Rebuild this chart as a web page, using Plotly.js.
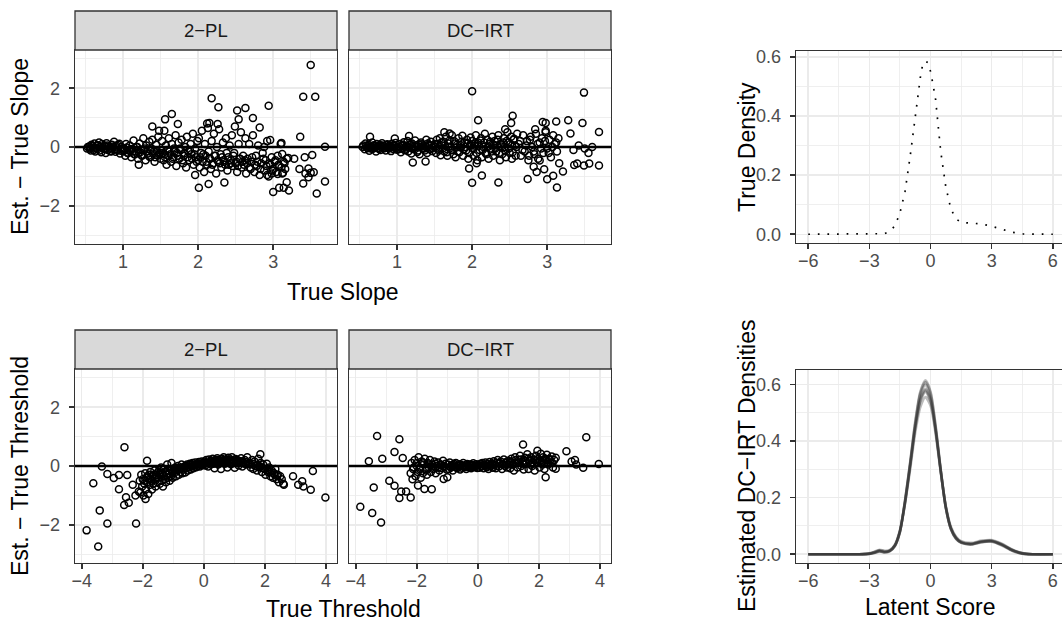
<!DOCTYPE html>
<html>
<head>
<meta charset="utf-8">
<script src="https://cdn.plot.ly/plotly-3.0.1.min.js"></script>
<style>html,body{margin:0;padding:0;background:#fff}#chart{width:1062px;height:622px}</style>
</head>
<body>
<div id="chart"></div>
<script>
// ---------------- DATA ----------------
const facetLabels = ["2\u2212PL", "DC\u2212IRT"];

// Slope panel, 2-PL: band points (x / y)
const slope2plX = [0.52,0.55,0.57,0.58,0.6,0.62,0.63,0.65,0.66,0.68,0.7,0.71,0.72,0.74,0.75,0.77,0.78,0.8,0.81,0.83,0.85,0.86,0.88,0.9,0.91,0.93,0.95,0.96,0.98,1.0,
 1.01,1.03,1.04,1.06,1.08,1.09,1.11,1.12,1.14,1.15,1.17,1.19,1.2,1.22,1.23,1.25,1.27,1.28,1.3,1.31,1.33,1.35,1.36,1.38,1.39,1.41,1.42,1.44,1.46,1.47,1.49,1.5,
 1.51,1.52,1.54,1.55,1.57,1.58,1.6,1.61,1.62,1.64,1.65,1.67,1.68,1.7,1.71,1.72,1.74,1.75,1.77,1.78,1.8,1.81,1.83,1.84,1.85,1.87,1.88,1.9,1.91,1.93,1.94,1.96,1.97,1.99,
 2.0,2.01,2.02,2.04,2.05,2.06,2.08,2.09,2.1,2.12,2.13,2.14,2.16,2.17,2.18,2.2,2.21,2.22,2.24,2.25,2.27,2.28,2.3,2.31,2.33,2.34,2.36,2.37,2.39,2.4,2.42,2.43,2.45,2.46,2.48,2.49,2.51,2.52,2.54,2.55,2.57,2.58,2.6,
 2.61,2.63,2.64,2.66,2.68,2.7,2.71,2.73,2.75,2.77,2.78,2.8,2.82,2.84,2.86,2.88,2.9,2.92,2.94,2.96,2.98,3.0,3.02,3.04,3.06,3.08,3.1,3.12,3.14,3.16,3.18];
const slope2plY = [-0.05,0.02,-0.12,0.08,-0.02,0.12,-0.15,0.05,-0.08,0.15,0.0,-0.18,0.1,-0.06,0.04,-0.2,0.13,-0.1,0.02,-0.14,0.08,-0.04,0.18,-0.16,0.05,-0.09,0.11,-0.22,0.0,-0.12,
 -0.05,-0.3,0.1,-0.2,-0.12,0.05,-0.35,-0.08,0.22,-0.25,-0.15,0.0,-0.4,0.12,-0.18,-0.3,0.3,-0.1,-0.45,0.05,-0.22,0.18,-0.35,-0.05,0.25,-0.15,-0.5,0.08,-0.28,0.35,-0.2,-0.4,
 -0.1,0.2,-0.45,-0.25,0.05,-0.6,-0.3,0.3,-0.15,-0.5,0.1,-0.35,-0.05,0.4,-0.65,-0.2,0.15,-0.4,-0.1,0.25,-0.55,-0.3,0.0,-0.7,0.35,-0.15,-0.45,0.1,-0.25,0.45,-0.6,-0.05,-0.35,0.2,
 -0.45,0.3,-0.7,-0.2,0.55,-0.5,-0.85,0.1,-0.3,-0.6,0.65,-0.15,-0.4,-0.75,0.2,-0.55,0.45,-0.3,-0.9,0.0,-0.5,0.6,-0.25,-0.7,0.15,-0.45,-0.6,0.3,-0.8,-0.35,0.05,-0.55,0.4,-0.65,-0.2,0.7,-0.5,-0.85,0.1,-0.4,0.5,-0.7,-0.3,
 -0.6,0.3,-0.9,-0.4,0.1,-0.75,-0.5,0.4,-0.85,-0.3,-0.65,0.05,-0.95,-0.55,-0.2,-0.8,-0.45,0.2,-1.0,-0.6,-0.35,-0.75,-0.5,-0.85,-0.3,-0.65,0.1,-0.9,-0.5,-0.75,-0.4];
// Slope panel, 2-PL: densest core of the band
const slope2plCoreX = [0.53,0.56,0.59,0.61,0.64,0.67,0.69,0.73,0.76,0.79,0.82,0.84,0.87,0.89,0.92,0.94,0.97,0.99,
 1.02,1.05,1.07,1.1,1.13,1.16,1.18,1.21,1.24,1.26,1.29,1.32,1.34,1.37,1.4,1.43,1.45,1.48,
 1.53,1.56,1.59,1.63,1.66,1.69,1.73,1.76,1.79,1.82,1.86,1.89,1.92,1.95,1.98,
 2.03,2.07,2.11,2.15,2.19,2.23,2.26,2.29,2.32,2.35,2.38,2.41,2.44,2.47,2.5,2.53,2.56,2.59,
 2.62,2.65,2.69,2.72,2.76,2.79,2.83,2.87,2.91,2.95,2.99,3.03,3.07,3.11,3.15];
const slope2plCoreY = [0.0,-0.06,0.04,-0.1,-0.03,0.06,-0.12,0.0,-0.08,0.05,-0.05,-0.15,0.02,-0.09,-0.02,0.07,-0.13,-0.05,
 -0.12,-0.02,-0.2,-0.08,-0.15,-0.25,0.0,-0.18,-0.1,-0.28,-0.05,-0.15,-0.3,-0.1,-0.22,-0.35,-0.12,-0.25,
 -0.2,-0.35,-0.1,-0.25,-0.4,-0.15,-0.3,-0.05,-0.45,-0.2,-0.35,-0.1,-0.4,-0.25,-0.5,
 -0.35,-0.25,-0.5,-0.4,-0.6,-0.3,-0.45,-0.55,-0.35,-0.5,-0.2,-0.6,-0.45,-0.3,-0.55,-0.65,-0.4,-0.5,
 -0.45,-0.55,-0.7,-0.35,-0.6,-0.5,-0.75,-0.4,-0.65,-0.55,-0.8,-0.45,-0.6,-0.7,-0.55];
// Slope panel, 2-PL: scattered points [x, y]
const slope2plOut = [[3.50,2.79],[3.40,1.71],[3.56,1.71],[2.18,1.66],[2.27,1.35],[2.94,1.40],[2.52,1.24],[2.63,1.33],[2.73,0.99],[2.54,0.94],[2.82,0.66],[3.36,0.35],[3.69,0.01],
 [1.65,1.12],[1.56,0.94],[1.73,0.78],[1.39,0.70],[1.48,0.55],[1.55,0.55],[2.12,0.8],[2.15,0.82],[2.26,0.78],[2.96,0.24],[3.11,0.14],[2.88,0.0],
 [2.01,-1.39],[2.14,-1.26],[2.35,-1.21],[1.96,-0.95],[3.0,-1.53],[3.08,-1.39],[3.14,-1.39],[3.18,-1.2],[3.21,-1.48],[3.40,-1.24],[3.58,-1.58],[3.69,-1.17],
 [3.47,-0.73],[3.43,-0.9],[3.5,-0.88],[3.54,-0.86],[3.47,-1.03],[3.42,-0.35],[3.52,-0.27],[3.35,-0.75],[3.28,-0.4],[3.2,-0.37],[3.12,-0.24],
 [2.92,-0.95],[2.98,-0.9],[3.06,-0.92],[3.13,-0.88],[1.21,-0.6]];

// Slope panel, DC-IRT
const slopeDcX = [0.55,0.57,0.58,0.6,0.62,0.63,0.65,0.67,0.68,0.7,0.72,0.73,0.75,0.77,0.78,0.8,0.82,0.83,0.85,0.87,0.88,0.9,0.92,0.93,0.95,0.97,0.98,1.0,
 1.02,1.04,1.05,1.07,1.09,1.1,1.12,1.14,1.15,1.17,1.19,1.2,1.22,1.24,1.25,1.27,1.29,1.3,1.32,1.34,1.35,1.37,1.39,1.4,1.42,1.44,1.45,1.47,1.49,
 1.5,1.52,1.53,1.55,1.57,1.58,1.6,1.62,1.63,1.65,1.67,1.68,1.7,1.72,1.73,1.75,1.77,1.78,1.8,1.82,1.83,1.85,1.87,1.88,1.9,1.92,1.93,1.95,1.97,1.98,
 2.0,2.02,2.03,2.05,2.07,2.08,2.1,2.12,2.13,2.15,2.17,2.18,2.2,2.22,2.23,2.25,2.27,2.28,2.3,2.32,2.33,2.35,2.37,2.38,2.4,2.42,2.43,2.45,2.47,2.48,2.5,2.52,2.53,2.55,2.57,2.58,2.6,
 2.62,2.65,2.68,2.7,2.73,2.75,2.78,2.8,2.83,2.85,2.88,2.9,2.93,2.95,2.98,3.0,3.03,3.05,3.08,3.1,3.13,3.15,
 3.35,3.42,3.5,3.55,3.6];
const slopeDcY = [0.05,-0.08,0.12,-0.02,0.08,-0.13,0.0,0.15,-0.06,0.04,-0.15,0.1,-0.03,0.07,-0.1,0.13,-0.05,0.02,-0.12,0.09,-0.01,0.06,-0.14,0.11,-0.07,0.03,0.14,-0.09,
 -0.08,0.1,-0.18,0.03,0.16,-0.1,-0.02,0.2,-0.15,0.07,-0.22,0.12,-0.05,0.22,0.0,-0.17,0.09,-0.25,0.15,-0.03,0.05,-0.12,0.25,-0.2,0.08,-0.07,0.18,-0.14,0.02,
 0.1,-0.2,0.25,-0.05,0.3,-0.28,0.05,0.18,-0.15,0.35,-0.3,0.0,0.22,-0.1,0.4,-0.25,0.12,-0.35,0.08,0.3,-0.18,-0.02,0.38,-0.3,0.15,-0.12,0.25,-0.4,0.05,0.32,
 0.2,-0.3,0.05,0.4,-0.45,0.15,-0.1,0.3,-0.35,0.0,0.45,-0.2,0.25,-0.4,0.1,-0.05,0.35,-0.3,0.2,-0.15,0.05,0.4,-0.45,0.1,-0.25,0.3,0.0,-0.35,0.5,0.15,-0.2,0.35,-0.4,0.25,0.05,-0.3,0.45,
 0.1,-0.3,0.4,-0.15,0.2,-0.45,0.35,0.0,-0.25,0.45,-0.4,0.15,0.3,-0.2,0.5,-0.05,0.25,-0.35,0.4,0.1,-0.15,0.3,
 -0.1,0.05,-0.05,-0.2,0.0];
const slopeDcCoreX = [0.54,0.59,0.61,0.64,0.66,0.69,0.71,0.74,0.76,0.79,0.81,0.84,0.86,0.89,0.91,0.94,0.96,0.99,
 1.03,1.06,1.08,1.11,1.13,1.16,1.18,1.21,1.23,1.26,1.28,1.31,1.33,1.36,1.38,1.41,1.43,1.46,1.48,
 1.51,1.54,1.56,1.59,1.61,1.64,1.66,1.69,1.71,1.74,1.76,1.79,1.81,1.84,1.86,1.89,1.91,1.94,1.96,1.99,
 2.01,2.04,2.06,2.09,2.11,2.14,2.16,2.19,2.21,2.24,2.26,2.29,2.31,2.34,2.36,2.39,2.41,2.44,2.46,2.49,2.51,2.54,2.56,2.59,
 2.64,2.67,2.72,2.77,2.82,2.87,2.92,2.97,3.02,3.07,3.12];
const slopeDcCoreY = [0.0,0.04,-0.04,0.02,-0.06,0.06,-0.02,0.03,-0.07,0.0,0.05,-0.03,0.07,-0.05,0.02,-0.01,0.05,-0.04,
 0.02,-0.05,0.08,-0.1,0.04,-0.02,0.1,-0.07,0.03,0.06,-0.12,0.0,0.09,-0.05,0.02,0.12,-0.08,0.05,-0.03,
 0.0,0.1,-0.12,0.15,-0.05,0.05,-0.18,0.12,0.02,-0.1,0.2,-0.02,-0.15,0.08,0.18,-0.08,0.0,0.12,-0.2,0.05,
 -0.05,0.12,-0.2,0.05,0.22,-0.1,0.15,-0.25,0.0,0.18,-0.15,0.08,-0.05,0.25,-0.2,0.02,0.15,-0.12,0.2,-0.05,0.1,-0.18,0.28,0.0,
 0.2,-0.1,0.05,0.25,-0.15,0.1,-0.05,0.2,-0.2,0.0,0.15];
const slopeDcOut = [[2.0,1.9],[3.49,1.85],[2.08,0.91],[2.54,1.06],[2.52,0.82],[2.44,0.6],[2.94,0.85],[2.98,0.82],[3.12,0.87],[3.28,0.91],[3.47,0.82],[3.69,0.51],[3.31,0.46],
 [2.84,0.6],[2.98,0.55],[1.63,0.5],[1.7,0.46],[0.64,0.35],[1.16,0.37],[0.97,0.29],
 [2.0,-1.22],[2.13,-0.97],[2.35,-1.21],[2.74,-1.09],[3.13,-1.38],[3.0,-1.1],[3.08,-0.98],[2.86,-0.85],[2.82,-0.67],[2.96,-0.76],[3.21,-0.83],[1.96,-0.73],
 [3.4,-0.56],[3.36,-0.61],[3.49,-0.63],[3.56,-0.56],[3.69,-0.63],[3.16,-0.55],[2.9,-0.46],[2.76,-0.3],[1.21,-0.53],[1.38,-0.49],[2.06,-0.55]];

// Threshold panel, 2-PL
const thr2plX = [-2.1,-2.08,-2.05,-2.02,-2.0,-1.98,-1.95,-1.92,-1.9,-1.88,-1.85,-1.82,-1.8,-1.78,-1.75,-1.72,-1.7,-1.68,-1.65,-1.62,-1.6,-1.58,-1.55,-1.52,-1.5,
 -1.48,-1.46,-1.44,-1.42,-1.4,-1.38,-1.36,-1.34,-1.32,-1.3,-1.28,-1.26,-1.24,-1.22,-1.2,-1.18,-1.16,-1.14,-1.12,-1.1,-1.08,-1.06,-1.04,-1.02,-1.0,
 -0.97,-0.94,-0.91,-0.88,-0.85,-0.82,-0.79,-0.76,-0.73,-0.7,-0.67,-0.64,-0.61,-0.58,-0.55,-0.52,-0.49,-0.46,-0.43,-0.4,-0.37,-0.34,-0.31,-0.28,-0.25,-0.22,-0.19,-0.16,-0.13,-0.1,-0.07,-0.04,-0.01,
 0.02,0.05,0.08,0.11,0.14,0.17,0.2,0.23,0.26,0.29,0.32,0.35,0.38,0.41,0.44,0.47,0.5,0.53,0.56,0.59,0.62,0.65,0.68,0.71,0.74,0.77,0.8,0.83,0.86,0.89,0.92,0.95,0.98,1.01,1.04,1.07,1.1,1.14,1.18,1.22,1.26,1.3,1.34,1.38,1.42,1.46,
 1.5,1.54,1.58,1.62,1.66,1.7,1.74,1.78,1.82,1.86,1.9,1.94,1.98,2.02,2.06,2.1,2.14,2.18,2.22,2.26,2.3,2.34,2.38,2.42,2.46,2.5,2.55,2.6];
const thr2plY = [-0.5,-0.9,-0.3,-0.7,-0.45,-1.0,-0.6,-0.25,-0.8,-0.4,-0.55,-0.95,-0.3,-0.65,-0.2,-0.5,-0.8,-0.35,-0.6,-0.15,-0.45,-0.7,-0.3,-0.55,-0.2,
 -0.4,-0.15,-0.6,-0.3,-0.05,-0.5,-0.25,-0.7,-0.35,-0.1,-0.45,-0.2,-0.55,-0.3,0.05,-0.4,-0.15,-0.25,-0.5,-0.1,-0.35,0.1,-0.2,-0.4,-0.15,
 -0.25,-0.05,-0.35,-0.15,0.0,-0.3,-0.1,-0.2,0.05,-0.25,-0.12,-0.02,-0.22,-0.08,0.05,-0.15,-0.05,0.08,-0.12,-0.02,0.1,-0.08,0.02,0.12,-0.04,0.06,0.0,0.14,-0.02,0.08,0.15,0.03,0.1,
 0.15,0.02,0.2,0.1,-0.02,0.22,0.12,0.05,0.18,0.25,0.08,-0.08,0.2,0.14,0.26,0.05,0.18,0.1,-0.1,0.25,0.15,0.3,0.08,0.2,0.12,-0.05,0.28,0.16,0.22,0.06,0.3,0.12,0.18,-0.06,0.24,0.1,0.2,0.02,0.15,0.26,-0.02,0.12,0.2,0.05,0.3,0.08,
 0.1,-0.05,0.2,-0.1,0.15,0.0,-0.15,0.25,-0.05,0.1,-0.2,0.05,-0.1,-0.3,0.08,-0.2,-0.05,-0.35,-0.15,-0.4,-0.25,-0.1,-0.45,-0.3,-0.55,-0.35,-0.45,-0.6];
const thr2plCoreX = [-1.95,-1.85,-1.75,-1.65,-1.55,-1.45,-1.35,-1.25,-1.15,-1.05,
 -0.95,-0.9,-0.8,-0.75,-0.65,-0.6,-0.5,-0.45,-0.35,-0.3,-0.2,-0.15,-0.05,0.0,
 0.04,0.1,0.16,0.22,0.28,0.34,0.4,0.46,0.52,0.58,0.64,0.7,0.76,0.82,0.88,0.94,1.0,1.06,1.12,1.2,1.28,1.36,1.44,
 1.52,1.6,1.68,1.76,1.84,1.92,2.0,2.08,2.16,2.24,2.32,2.4];
const thr2plCoreY = [-0.5,-0.35,-0.45,-0.3,-0.4,-0.25,-0.3,-0.2,-0.25,-0.12,
 -0.15,-0.08,-0.12,-0.05,-0.07,0.0,-0.02,0.03,0.0,0.05,0.04,0.08,0.06,0.1,
 0.08,0.12,0.1,0.15,0.12,0.17,0.14,0.2,0.16,0.18,0.2,0.15,0.22,0.18,0.14,0.2,0.15,0.18,0.12,0.16,0.1,0.14,0.08,
 0.05,0.08,0.0,0.04,-0.02,-0.06,-0.1,-0.14,-0.2,-0.22,-0.3,-0.35];
const thr2plOut = [[-3.84,-2.19],[-3.46,-2.74],[-3.41,-1.51],[-3.16,-1.96],[-3.62,-0.59],[-3.34,-0.02],[-3.16,-0.27],[-2.95,-0.41],[-2.78,-0.31],[-2.51,-0.31],
 [-2.78,-0.79],[-2.6,0.64],[-2.55,-1.06],[-2.61,-1.33],[-2.46,-1.25],[-2.22,-1.96],[-2.33,-0.64],[-2.13,-0.87],[-2.24,-1.0],[-1.91,-1.12],[-1.86,0.18],
 [2.92,-0.35],[2.62,-0.64],[3.09,-0.64],[3.22,-0.52],[3.26,-0.7],[3.5,-0.81],[3.57,-0.17],[3.98,-1.07],[1.85,0.4]];

// Threshold panel, DC-IRT
const thrDcX = [-2.2,-2.17,-2.14,-2.1,-2.07,-2.04,-2.0,-1.97,-1.94,-1.9,-1.87,-1.84,-1.8,-1.77,-1.74,-1.7,-1.67,-1.64,-1.6,-1.57,-1.54,-1.5,-1.46,-1.42,-1.38,-1.34,-1.3,-1.26,-1.22,-1.18,-1.14,-1.1,-1.06,-1.02,
 -0.98,-0.95,-0.92,-0.88,-0.85,-0.82,-0.78,-0.75,-0.72,-0.68,-0.65,-0.62,-0.58,-0.55,-0.52,-0.48,-0.45,-0.42,-0.38,-0.35,-0.32,-0.28,-0.25,-0.22,-0.18,-0.15,-0.12,-0.08,-0.05,-0.02,
 0.02,0.05,0.09,0.12,0.15,0.19,0.22,0.25,0.29,0.32,0.35,0.39,0.42,0.45,0.49,0.52,0.55,0.59,0.62,0.65,0.69,0.72,0.75,0.79,0.82,0.85,0.89,0.92,0.95,0.99,
 1.02,1.06,1.1,1.14,1.18,1.22,1.26,1.3,1.34,1.38,1.42,1.46,1.5,1.54,1.58,1.62,1.66,1.7,1.74,1.78,1.82,1.86,1.9,1.94,1.98,2.02,2.06,2.1,2.14,2.18,2.22,2.26,2.3,2.34,2.38,2.42,2.46,2.5];
const thrDcY = [-0.25,0.1,-0.45,-0.05,0.2,-0.35,0.0,-0.2,0.3,-0.1,-0.4,0.15,-0.25,0.05,0.25,-0.15,-0.3,0.1,-0.05,0.2,-0.2,0.05,-0.1,0.15,-0.25,0.0,0.12,-0.15,0.05,-0.08,0.18,-0.05,0.08,-0.12,
 0.05,-0.1,0.12,-0.05,0.02,-0.15,0.08,-0.02,0.1,-0.08,0.0,0.06,-0.12,0.04,-0.06,0.1,-0.03,0.02,-0.1,0.07,0.0,-0.05,0.05,-0.08,0.03,0.09,-0.04,0.01,0.06,-0.07,
 0.04,-0.06,0.08,-0.02,0.1,-0.08,0.02,0.12,-0.04,0.06,-0.1,0.14,0.0,0.08,-0.06,0.16,0.04,-0.08,0.1,0.2,-0.02,0.08,0.15,-0.1,0.05,0.22,0.0,0.12,-0.05,0.18,
 0.1,-0.08,0.25,0.05,-0.15,0.3,0.12,-0.05,0.2,0.35,0.0,0.15,-0.12,0.28,0.08,0.4,-0.1,0.18,0.3,0.0,0.22,-0.15,0.35,0.1,0.25,-0.05,0.42,0.15,0.3,-0.1,0.2,0.38,0.05,0.25,0.12,0.32,-0.05,0.2];
const thrDcCoreX = [-2.12,-2.0,-1.9,-1.8,-1.7,-1.6,-1.5,-1.4,-1.3,-1.2,-1.1,
 -0.9,-0.8,-0.7,-0.6,-0.5,-0.4,-0.3,-0.2,-0.1,0.0,0.1,0.2,0.3,0.4,0.5,0.6,0.7,0.8,0.9,1.0,
 1.08,1.16,1.24,1.32,1.4,1.48,1.56,1.64,1.72,1.8,1.88,1.96,2.04,2.12,2.2,2.28,2.36,2.44];
const thrDcCoreY = [-0.1,0.1,-0.05,0.12,-0.1,0.05,-0.02,0.08,-0.06,0.03,0.0,
 -0.02,0.03,-0.04,0.02,0.0,-0.03,0.04,0.0,-0.02,0.02,0.0,0.05,-0.02,0.04,0.07,0.0,0.1,0.05,0.12,0.06,
 0.15,0.05,0.2,0.1,0.22,0.08,0.15,0.25,0.05,0.12,0.2,0.1,0.18,0.05,0.25,0.12,0.2,0.1];
const thrDcOut = [[-3.85,-1.39],[-3.46,-1.6],[-3.17,-1.92],[-3.41,-0.73],[-3.3,1.02],[-2.57,0.91],[-2.73,0.48],[-2.46,0.27],[-3.13,0.25],[-3.57,0.16],
 [-2.9,-0.5],[-2.73,-0.67],[-2.51,-0.87],[-2.57,-1.09],[-2.35,-0.87],[-2.2,-1.07],[-1.96,-0.66],[-1.75,-0.78],[-1.51,-0.79],[-1.12,-0.44],[-1.0,-0.38],
 [3.55,0.98],[2.9,0.5],[3.07,0.15],[3.18,0.2],[3.22,0.05],[3.45,-0.06],[3.96,0.07],[1.48,0.73],[1.95,0.52],[2.22,-0.38],[2.55,-0.09],[2.55,0.28]];

// True latent density
const trueX = [-6,-5.5,-5,-4.5,-4,-3.5,-3,-2.5,-2.25,-2,-1.75,-1.5,-1.25,-1,-0.75,-0.5,-0.375,-0.25,-0.125,0,0.125,0.25,0.5,0.75,1,1.25,1.5,2,2.5,3,3.5,4,4.5,5,5.5,6];
const trueY = [0,0,0,0,0,0,0,0,0.002,0.01,0.028,0.072,0.145,0.263,0.405,0.53,0.578,0.585,0.58,0.55,0.505,0.455,0.28,0.16,0.085,0.052,0.04,0.037,0.035,0.027,0.016,0.007,0.001,0,0,0];

// Estimated DC-IRT densities (posterior draws)
const latentX = [-6,-5,-4,-3.5,-3,-2.75,-2.5,-2.25,-2,-1.75,-1.5,-1.25,-1,-0.75,-0.5,-0.25,0,0.25,0.5,0.75,1,1.25,1.5,2,2.5,3,3.5,4,4.5,5,6];
const drawA = [0,0,0,0,0.002,0.006,0.012,0.008,0.012,0.03,0.08,0.185,0.315,0.45,0.55,0.585,0.55,0.44,0.295,0.165,0.09,0.057,0.042,0.036,0.044,0.046,0.033,0.014,0.003,0,0];
const drawB = [0,0,0,0,0.001,0.004,0.01,0.006,0.01,0.028,0.078,0.19,0.325,0.47,0.575,0.615,0.575,0.455,0.3,0.165,0.088,0.054,0.04,0.034,0.042,0.045,0.032,0.013,0.002,0,0];
const drawC = [0,0,0,0,0.003,0.009,0.016,0.012,0.015,0.034,0.085,0.18,0.3,0.43,0.52,0.555,0.525,0.425,0.29,0.17,0.097,0.062,0.046,0.04,0.048,0.05,0.037,0.017,0.004,0,0];
const drawD = [0,0,0,0,0.001,0.005,0.011,0.007,0.011,0.03,0.082,0.19,0.32,0.46,0.565,0.6,0.56,0.445,0.295,0.163,0.09,0.056,0.041,0.035,0.043,0.047,0.035,0.015,0.003,0,0];
const drawE = [0,0,0,0,0.002,0.007,0.014,0.01,0.013,0.032,0.08,0.18,0.31,0.445,0.54,0.575,0.54,0.435,0.295,0.168,0.093,0.06,0.044,0.038,0.046,0.048,0.034,0.015,0.003,0,0];
const drawF = [0,0,0,0,0.002,0.005,0.01,0.007,0.012,0.03,0.079,0.188,0.322,0.462,0.57,0.608,0.57,0.45,0.298,0.164,0.089,0.055,0.041,0.035,0.043,0.044,0.031,0.012,0.002,0,0];
const drawG = [0,0,0,0,0.003,0.008,0.013,0.009,0.013,0.031,0.083,0.183,0.312,0.448,0.545,0.58,0.545,0.438,0.293,0.166,0.092,0.058,0.043,0.037,0.045,0.047,0.035,0.016,0.004,0,0];
const draws = [drawA, drawB, drawC, drawD, drawE, drawF, drawG];

// ---------------- LAYOUT HELPERS ----------------
const W = 1062, H = 622;
const fx = p => p / W;
const fy = p => 1 - p / H;
const FONT = "Liberation Sans, Arial, Helvetica, sans-serif";

const panels = {
  p1: {x: [75, 337], y: [50, 244]},
  p2: {x: [349, 611], y: [50, 244]},
  p3: {x: [75, 337], y: [369, 563]},
  p4: {x: [349, 611], y: [369, 563]},
  p5: {x: [796, 1062], y: [51, 243]},
  p6: {x: [796, 1062], y: [370, 563]}
};

function baseAxis(extra) {
  return Object.assign({
    showline: true, mirror: true, linecolor: '#333333', linewidth: 1.3,
    ticks: 'outside', ticklen: 5, tickwidth: 1.6, tickcolor: '#333333',
    tickfont: {family: FONT, size: 18, color: '#4D4D4D'},
    showgrid: true, gridcolor: '#EBEBEB', gridwidth: 1.5,
    zeroline: false, fixedrange: true, layer: 'below traces'
  }, extra);
}
function xAx(p, anchor, range, dtick, minorD, extra) {
  return baseAxis(Object.assign({
    domain: [fx(p.x[0]), fx(p.x[1])], anchor: anchor, range: range,
    tickmode: 'linear', tick0: 0, dtick: dtick, ticklabelstandoff: -4,
    minor: {dtick: minorD, tick0: 0, showgrid: true, gridcolor: '#EBEBEB', gridwidth: 0.8, ticks: ''}
  }, extra || {}));
}
function yAx(p, anchor, range, dtick, minorD, extra) {
  return baseAxis(Object.assign({
    domain: [fy(p.y[1]), fy(p.y[0])], anchor: anchor, range: range,
    tickmode: 'linear', tick0: 0, dtick: dtick, ticklabelstandoff: 5,
    minor: {dtick: minorD, tick0: 0, showgrid: true, gridcolor: '#EBEBEB', gridwidth: 0.8, ticks: ''}
  }, extra || {}));
}

const mk = {symbol: 'circle-open', size: 7, color: '#000000', line: {width: 1.5, color: '#000000'}};
function scatterTrace(xs, ys, cx, cy, out, xa, ya) {
  return {
    type: 'scatter', mode: 'markers', xaxis: xa, yaxis: ya,
    x: xs.concat(cx, out.map(d => d[0])), y: ys.concat(cy, out.map(d => d[1])),
    marker: mk, hoverinfo: 'skip', showlegend: false
  };
}

const traces = [
  scatterTrace(slope2plX, slope2plY, slope2plCoreX, slope2plCoreY, slope2plOut, 'x', 'y'),
  scatterTrace(slopeDcX, slopeDcY, slopeDcCoreX, slopeDcCoreY, slopeDcOut, 'x2', 'y2'),
  scatterTrace(thr2plX, thr2plY, thr2plCoreX, thr2plCoreY, thr2plOut, 'x3', 'y3'),
  scatterTrace(thrDcX, thrDcY, thrDcCoreX, thrDcCoreY, thrDcOut, 'x4', 'y4'),
  {type: 'scatter', mode: 'lines', xaxis: 'x5', yaxis: 'y5', x: trueX, y: trueY,
   line: {color: '#000000', width: 1.7, dash: '1.7px,7.9px'}, hoverinfo: 'skip', showlegend: false}
];
draws.forEach(d => traces.push({
  type: 'scatter', mode: 'lines', xaxis: 'x6', yaxis: 'y6', x: latentX, y: d,
  line: {color: 'rgba(51,51,51,0.32)', width: 2.6, shape: 'spline', smoothing: 0.7},
  hoverinfo: 'skip', showlegend: false
}));

const slopeRangeX = [0.36, 3.85], slopeRangeY = [-3.3, 3.3];
const thrRangeX = [-4.22, 4.36], thrRangeY = [-3.3, 3.3];
const latRangeX = [-6.6, 6.45];

const layout = {
  width: W, height: H, margin: {l: 0, r: 0, t: 0, b: 0},
  paper_bgcolor: '#ffffff', plot_bgcolor: '#ffffff',
  font: {family: FONT, color: '#000000'},
  showlegend: false,
  xaxis:  xAx(panels.p1, 'y',  slopeRangeX, 1, 0.5),
  yaxis:  yAx(panels.p1, 'x',  slopeRangeY, 2, 1),
  xaxis2: xAx(panels.p2, 'y2', slopeRangeX, 1, 0.5),
  yaxis2: yAx(panels.p2, 'x2', slopeRangeY, 2, 1, {showticklabels: false, ticks: ''}),
  xaxis3: xAx(panels.p3, 'y3', thrRangeX, 2, 1),
  yaxis3: yAx(panels.p3, 'x3', thrRangeY, 2, 1),
  xaxis4: xAx(panels.p4, 'y4', thrRangeX, 2, 1),
  yaxis4: yAx(panels.p4, 'x4', thrRangeY, 2, 1, {showticklabels: false, ticks: ''}),
  xaxis5: xAx(panels.p5, 'y5', latRangeX, 3, 1.5),
  yaxis5: yAx(panels.p5, 'x5', [-0.0295, 0.6195], 0.2, 0.1, {tickformat: '.1f'}),
  xaxis6: xAx(panels.p6, 'y6', latRangeX, 3, 1.5),
  yaxis6: yAx(panels.p6, 'x6', [-0.031, 0.651], 0.2, 0.1, {tickformat: '.1f'}),
  shapes: [],
  annotations: []
};

// facet strips
const strips = [
  {p: panels.p1, label: facetLabels[0], top: 11},
  {p: panels.p2, label: facetLabels[1], top: 11},
  {p: panels.p3, label: facetLabels[0], top: 330},
  {p: panels.p4, label: facetLabels[1], top: 330}
];
strips.forEach(s => {
  layout.shapes.push({type: 'rect', xref: 'paper', yref: 'paper', layer: 'above',
    x0: fx(s.p.x[0]), x1: fx(s.p.x[1]), y0: fy(s.p.y[0]), y1: fy(s.top),
    fillcolor: '#D9D9D9', line: {color: '#333333', width: 1.3}});
  layout.annotations.push({xref: 'paper', yref: 'paper', showarrow: false,
    x: fx((s.p.x[0] + s.p.x[1]) / 2), y: fy((s.top + s.p.y[0]) / 2),
    xanchor: 'center', yanchor: 'middle', text: s.label,
    font: {family: FONT, size: 18.5, color: '#1A1A1A'}});
});

// zero reference lines
[['x', 'y'], ['x2', 'y2'], ['x3', 'y3'], ['x4', 'y4']].forEach(([xa, ya]) => {
  layout.shapes.push({type: 'line', xref: xa + ' domain', yref: ya, x0: 0, x1: 1, y0: 0, y1: 0,
    layer: 'above', line: {color: '#000000', width: 2.6}});
});

// axis titles
function title(text, xp, yp, angle) {
  layout.annotations.push({xref: 'paper', yref: 'paper', showarrow: false,
    x: fx(xp), y: fy(yp), xanchor: 'center', yanchor: 'middle', textangle: angle || 0,
    text: text, font: {family: FONT, size: 23, color: '#000000'}});
}
title('True Slope', 343, 292);
title('True Threshold', 343, 609);
title('Est. \u2212 True Slope', 20, 147, -90);
title('Est. \u2212 True Threshold', 20, 466, -90);
title('True Density', 747, 147, -90);
title('Estimated DC\u2212IRT Densities', 747, 466, -90);
title('Latent Score', 930, 607);

Plotly.newPlot('chart', traces, layout, {staticPlot: true, displayModeBar: false});
</script>
</body>
</html>
